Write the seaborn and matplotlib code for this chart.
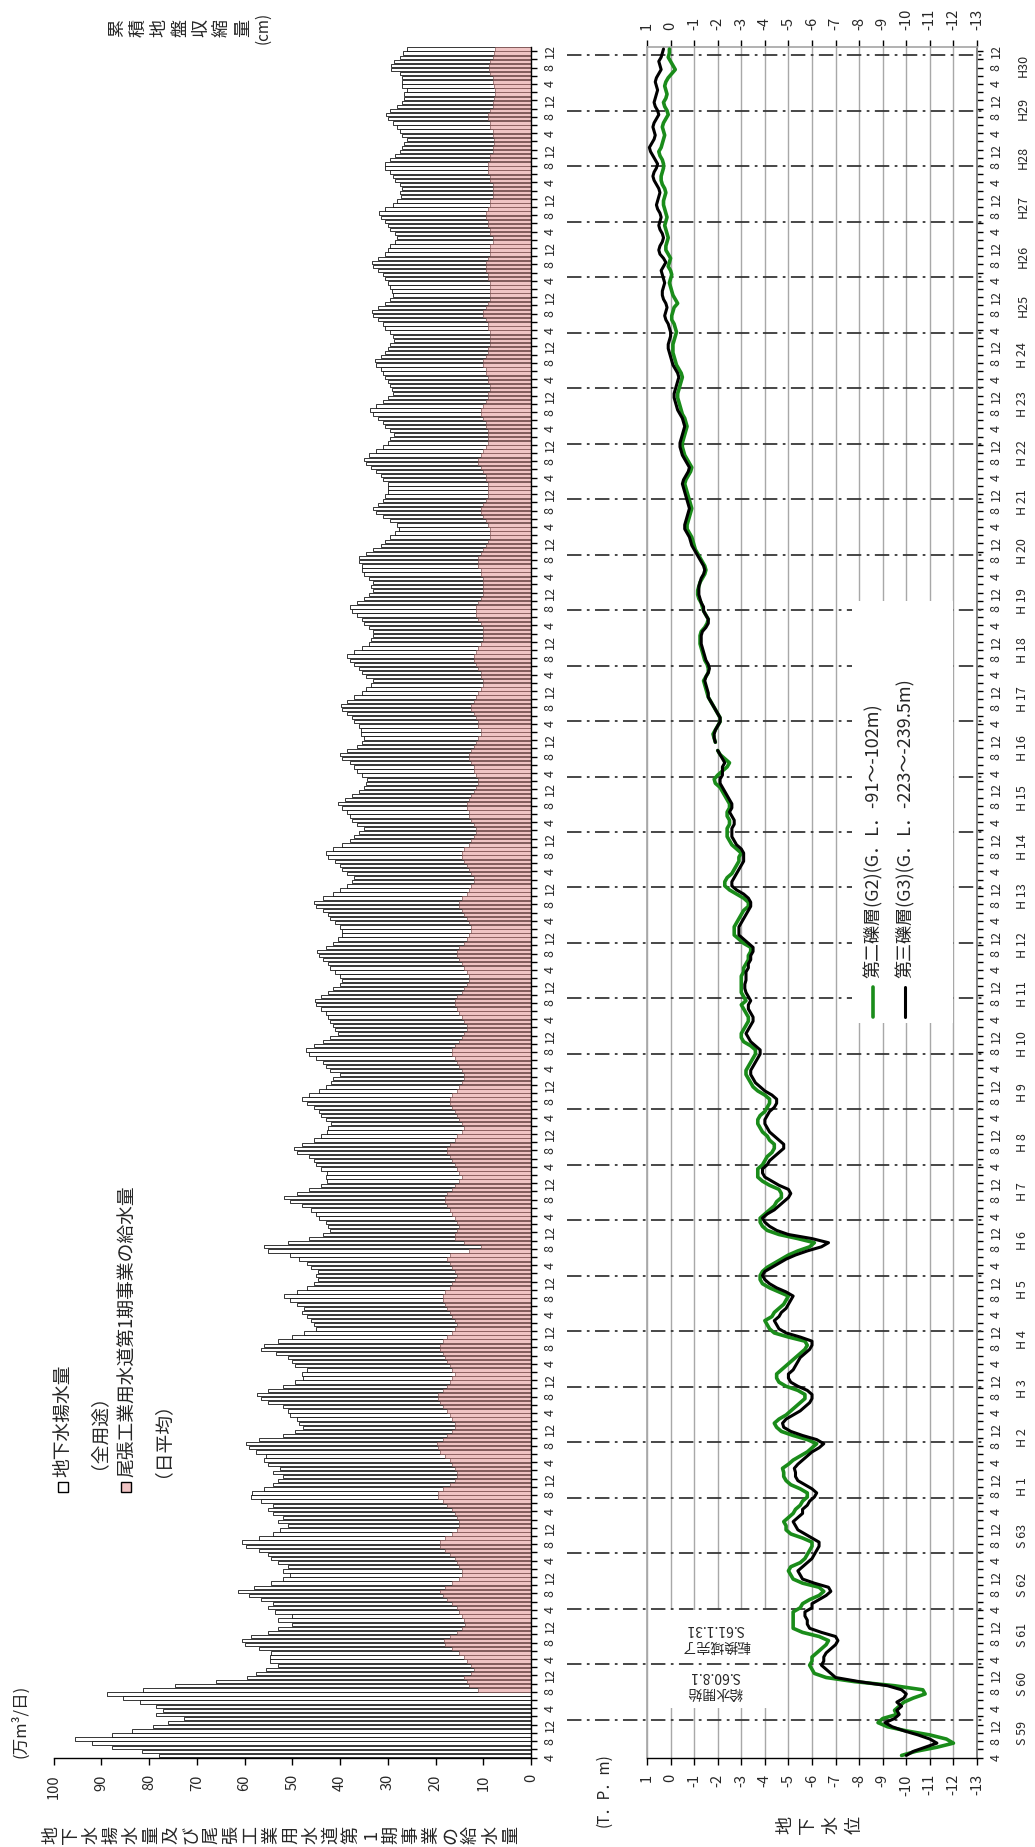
import numpy as np
import pandas as pd
import matplotlib
matplotlib.use("Agg")
import matplotlib.pyplot as plt
import seaborn as sns
from matplotlib.patches import Rectangle
from matplotlib.lines import Line2D
from matplotlib.transforms import blended_transform_factory

# ---- data: monthly, Apr 1984 (S59.4) .. Dec 2018 (H30.12) ----
# groundwater pumping, all uses (万m3/日)
total_rows = [
    [78.0, 81.4, 87.8, 91.9, 95.5, 87.8, 83.5, 79.2, 76.1],
    [72.7, 78.5, 77.0, 78.5, 81.8, 85.4, 88.8, 81.3, 74.6, 66.0, 59.4, 57.5],
    [55.5, 53.0, 54.6, 54.6, 54.5, 57.0, 60.0, 60.6, 58.7, 55.0, 53.0, 50.0],
    [53.0, 50.0, 53.6, 55.0, 54.0, 56.5, 59.0, 61.3, 58.0, 54.5, 52.0, 50.4],
    [52.0, 51.0, 53.0, 54.5, 55.0, 57.0, 59.6, 60.5, 57.0, 54.0, 52.5, 51.0],
    [53.0, 52.0, 54.0, 55.0, 54.0, 56.5, 58.7, 58.5, 56.0, 54.0, 53.0, 52.0],
    [54.0, 52.5, 55.0, 56.0, 55.5, 57.5, 59.0, 59.6, 57.0, 52.0, 49.5, 47.8],
    [48.5, 49.0, 50.5, 51.0, 52.0, 55.0, 56.5, 57.4, 55.0, 52.0, 49.5, 47.8],
    [48.0, 47.0, 49.5, 50.0, 51.0, 53.5, 56.5, 56.0, 53.0, 50.0, 47.5, 45.0],
    [45.5, 46.0, 47.0, 48.0, 47.5, 49.0, 50.5, 51.7, 49.0, 47.0, 45.5, 44.6],
    [45.0, 44.6, 46.0, 47.0, 48.5, 50.5, 55.0, 56.0, 51.0, 46.5, 43.5, 42.0],
    [42.5, 43.0, 44.5, 45.0, 46.0, 48.0, 50.5, 51.7, 49.0, 46.5, 44.0, 42.7],
    [43.0, 42.7, 44.0, 45.0, 45.5, 46.5, 49.0, 49.7, 48.0, 45.5, 44.0, 42.7],
    [42.5, 41.8, 43.0, 44.0, 44.5, 45.5, 47.0, 48.0, 46.5, 44.5, 43.0, 41.8],
    [41.5, 40.1, 42.0, 43.0, 43.5, 45.0, 46.5, 47.2, 45.5, 43.5, 42.0, 40.5],
    [41.0, 41.5, 42.0, 42.5, 43.0, 44.0, 45.0, 45.3, 44.0, 42.5, 41.5, 40.0],
    [39.5, 40.0, 41.0, 42.0, 42.5, 43.5, 44.5, 44.9, 43.0, 41.5, 40.5, 39.5],
    [39.5, 40.0, 41.0, 42.0, 42.5, 43.5, 45.0, 45.5, 43.5, 41.5, 40.0, 38.5],
    [37.5, 37.0, 38.5, 39.5, 40.0, 41.0, 42.5, 43.0, 41.5, 39.5, 38.0, 37.0],
    [36.0, 35.0, 36.5, 37.5, 38.0, 38.5, 39.5, 40.4, 39.0, 37.5, 36.0, 35.0],
    [34.5, 34.4, 35.5, 36.5, 37.0, 38.0, 39.5, 40.0, 38.5, 36.5, 35.5, 35.0],
    [35.6, 35.6, 36.0, 37.0, 37.5, 38.5, 39.5, 39.9, 38.5, 37.0, 35.5, 34.5],
    [33.5, 33.0, 34.5, 35.5, 36.0, 37.0, 38.0, 38.6, 37.0, 35.5, 34.0, 33.5],
    [33.0, 33.0, 34.0, 35.0, 35.5, 36.5, 37.5, 38.0, 36.5, 35.0, 34.0, 33.0],
    [33.5, 33.0, 34.0, 35.0, 35.5, 35.5, 36.0, 36.0, 34.5, 33.0, 31.5, 30.5],
    [29.5, 28.5, 27.6, 28.0, 29.5, 31.0, 32.5, 33.0, 32.0, 31.0, 30.5, 30.0],
    [30.0, 30.0, 31.0, 31.5, 32.5, 33.5, 34.5, 35.0, 34.0, 32.5, 31.0, 30.0],
    [29.5, 28.6, 29.5, 30.5, 31.0, 32.0, 33.0, 33.7, 32.5, 31.0, 30.0, 29.0],
    [29.2, 29.5, 30.0, 30.5, 31.0, 31.5, 32.5, 32.7, 31.5, 30.5, 30.0, 29.5],
    [28.8, 29.0, 29.5, 30.5, 31.0, 32.0, 33.0, 33.3, 32.0, 30.5, 29.5, 29.0],
    [29.2, 29.5, 30.0, 30.5, 31.0, 32.0, 33.0, 33.3, 32.0, 30.5, 30.0, 29.5],
    [28.5, 28.0, 28.5, 29.5, 30.0, 30.5, 31.5, 31.8, 30.5, 29.0, 28.0, 27.3],
    [27.5, 27.0, 27.5, 28.5, 29.0, 29.5, 30.5, 30.5, 29.5, 28.5, 27.5, 27.0],
    [26.5, 26.0, 27.0, 27.5, 28.0, 29.0, 30.0, 30.3, 29.5, 28.0, 27.0, 26.5],
    [26.5, 26.0, 27.0, 27.0, 27.0, 27.5, 29.3, 29.3, 28.7, 27.5, 26.8, 26.0],
]

nan = np.nan
# 尾張工業用水道第1期事業の給水量 (supply started S60.8)
pink_rows = [
    [nan] * 9,
    [nan, nan, nan, nan, nan, nan, nan, 11.0, 13.0, 13.5, 14.0, 12.5],
    [12.0, 12.5, 13.5, 14.0, 15.0, 16.5, 18.0, 18.3, 17.0, 15.5, 14.5, 13.8],
    [14.0, 14.5, 15.0, 15.5, 16.5, 17.5, 18.5, 19.0, 18.0, 16.5, 15.0, 14.5],
    [14.5, 15.0, 15.5, 16.0, 17.0, 18.0, 19.0, 19.0, 18.0, 16.5, 15.5, 15.0],
    [15.0, 15.5, 16.0, 16.5, 17.5, 18.5, 19.5, 19.5, 18.5, 17.0, 16.0, 15.5],
    [15.5, 16.0, 16.5, 17.0, 18.0, 19.0, 19.5, 19.6, 18.5, 17.5, 16.5, 16.0],
    [16.0, 16.5, 17.0, 17.5, 18.5, 19.0, 19.5, 19.5, 18.5, 17.5, 17.0, 16.5],
    [16.0, 16.5, 17.0, 17.5, 18.0, 18.5, 19.0, 19.0, 18.5, 17.5, 16.5, 16.0],
    [15.5, 16.0, 16.5, 17.0, 17.5, 18.0, 18.5, 18.5, 18.0, 17.0, 16.5, 16.0],
    [15.5, 16.0, 16.5, 17.0, 17.5, 17.0, 13.0, 10.5, 14.0, 16.0, 16.0, 15.5],
    [15.0, 15.5, 16.0, 16.5, 17.0, 17.5, 18.0, 18.0, 17.5, 16.5, 16.0, 15.0],
    [14.5, 15.0, 15.5, 16.0, 16.5, 17.0, 17.5, 17.5, 17.0, 16.0, 15.5, 14.5],
    [14.0, 14.5, 15.0, 15.5, 16.0, 16.5, 17.0, 17.0, 16.5, 15.5, 15.0, 14.5],
    [14.0, 14.0, 14.5, 15.0, 15.5, 16.0, 16.5, 16.5, 16.0, 15.0, 14.5, 14.0],
    [13.5, 13.5, 14.0, 14.5, 15.0, 15.5, 16.0, 16.0, 15.5, 14.5, 14.0, 13.5],
    [13.0, 13.0, 13.5, 14.0, 14.5, 15.0, 15.5, 15.5, 15.0, 14.0, 13.5, 13.0],
    [12.5, 12.5, 13.0, 13.5, 14.0, 14.5, 15.0, 15.0, 14.5, 13.5, 13.0, 12.5],
    [12.0, 12.0, 12.5, 13.0, 13.5, 14.0, 14.5, 14.5, 14.0, 13.0, 12.5, 12.0],
    [11.5, 11.5, 12.0, 12.5, 13.0, 13.0, 13.5, 13.5, 13.0, 12.5, 12.0, 11.5],
    [11.0, 11.0, 11.5, 12.0, 12.0, 12.5, 13.0, 13.0, 12.5, 12.0, 11.5, 11.0],
    [10.5, 10.5, 11.0, 11.0, 11.5, 12.0, 12.5, 12.5, 12.0, 11.5, 11.0, 10.5],
    [10.0, 10.0, 10.5, 10.5, 11.0, 11.5, 12.0, 12.0, 11.5, 11.0, 10.5, 10.0],
    [10.0, 10.0, 10.0, 10.5, 11.0, 11.5, 11.5, 11.5, 11.0, 10.5, 10.0, 10.0],
    [10.0, 10.0, 10.0, 10.5, 10.5, 11.0, 11.0, 11.0, 10.5, 10.0, 9.5, 9.0],
    [8.5, 8.5, 8.5, 9.0, 9.5, 10.0, 10.5, 10.5, 10.0, 9.5, 9.0, 9.0],
    [9.0, 9.0, 9.5, 9.5, 10.0, 10.5, 11.0, 11.0, 10.5, 10.0, 9.5, 9.0],
    [9.0, 9.0, 9.0, 9.5, 9.5, 10.0, 10.5, 10.5, 10.0, 9.5, 9.0, 9.0],
    [8.5, 8.5, 9.0, 9.0, 9.5, 9.5, 10.0, 10.0, 9.5, 9.0, 9.0, 8.5],
    [8.5, 8.5, 8.5, 9.0, 9.0, 9.5, 10.0, 10.0, 9.5, 9.0, 8.5, 8.5],
    [8.5, 8.5, 8.5, 9.0, 9.0, 9.5, 9.5, 9.5, 9.0, 8.5, 8.5, 8.5],
    [8.0, 8.0, 8.5, 8.5, 9.0, 9.0, 9.5, 9.5, 9.0, 8.5, 8.5, 8.0],
    [8.0, 8.0, 8.0, 8.5, 8.5, 9.0, 9.0, 9.0, 8.5, 8.5, 8.0, 8.0],
    [7.8, 7.8, 8.0, 8.0, 8.5, 8.5, 9.0, 9.0, 8.5, 8.0, 8.0, 7.8],
    [7.6, 7.6, 7.8, 8.0, 8.0, 8.5, 8.8, 8.8, 8.5, 8.0, 7.8, 7.6],
]

# groundwater level, 第二礫層 G2 (T.P. m)
g2_rows = [
    [-9.8, -10.4, -11.3, -12.0, -11.7, -11.0, -10.0, -9.2, -8.8],
    [-9.0, -9.6, -9.5, -9.7, -9.9, -10.3, -10.8, -10.7, -9.5, -7.8, -6.6, -6.1],
    [-6.0, -5.9, -6.0, -6.0, -6.2, -6.4, -6.6, -6.7, -6.3, -5.6, -5.2, -5.2],
    [-5.2, -5.2, -5.2, -5.5, -5.6, -5.9, -6.3, -6.5, -6.3, -5.6, -5.2, -5.1],
    [-5.0, -5.1, -5.5, -5.7, -5.8, -5.9, -6.0, -6.0, -5.6, -5.1, -4.9, -4.9],
    [-4.8, -5.0, -5.2, -5.3, -5.5, -5.6, -5.8, -5.8, -5.5, -5.1, -4.9, -4.8],
    [-4.8, -4.75, -5.0, -5.2, -5.5, -5.8, -6.0, -6.2, -5.8, -5.2, -4.7, -4.5],
    [-4.4, -4.6, -4.9, -5.1, -5.3, -5.5, -5.7, -5.7, -5.4, -4.9, -4.6, -4.5],
    [-4.5, -4.7, -4.9, -5.1, -5.3, -5.5, -5.7, -5.8, -5.7, -5.0, -4.4, -4.2],
    [-4.1, -4.0, -4.3, -4.4, -4.6, -4.8, -4.9, -5.0, -4.6, -4.2, -3.9, -3.8],
    [-3.8, -3.9, -4.1, -4.4, -4.7, -5.0, -5.4, -5.9, -6.1, -5.4, -4.6, -4.1],
    [-3.9, -3.8, -3.8, -4.0, -4.2, -4.4, -4.5, -4.7, -4.7, -4.6, -4.2, -3.9],
    [-3.7, -3.7, -3.7, -3.9, -4.0, -4.1, -4.3, -4.4, -4.4, -4.2, -4.1, -3.9],
    [-3.8, -3.7, -3.7, -3.8, -4.0, -4.1, -4.2, -4.2, -4.0, -3.7, -3.5, -3.4],
    [-3.3, -3.2, -3.2, -3.3, -3.4, -3.5, -3.6, -3.6, -3.4, -3.1, -3.0, -3.0],
    [-3.1, -3.2, -3.3, -3.3, -3.2, -3.1, -3.0, -3.2, -3.1, -3.0, -3.0, -3.0],
    [-3.0, -3.0, -3.1, -3.1, -3.2, -3.3, -3.3, -3.4, -3.4, -3.1, -2.9, -2.7],
    [-2.7, -2.7, -2.8, -2.9, -3.0, -3.1, -3.3, -3.3, -3.1, -2.8, -2.5, -2.3],
    [-2.3, -2.4, -2.6, -2.7, -2.8, -2.9, -2.9, -3.0, -2.8, -2.6, -2.5, -2.4],
    [-2.4, -2.4, -2.5, -2.5, -2.4, -2.4, -2.5, -2.5, -2.4, -2.3, -2.2, -2.1],
    [-1.9, -1.85, -2.0, -2.2, -2.4, -2.5, -2.3, -2.1, -2.0, nan, -1.9, -1.85],
    [-1.8, -1.9, -2.0, -2.1, -2.1, -2.0, -1.9, -1.8, -1.7, -1.6, -1.55, -1.5],
    [-1.45, -1.4, -1.5, -1.6, -1.6, -1.55, -1.45, -1.4, -1.35, -1.3, -1.25, -1.25],
    [-1.25, -1.3, -1.45, -1.55, -1.6, -1.5, -1.4, -1.35, -1.3, -1.2, -1.15, -1.15],
    [-1.2, -1.25, -1.35, -1.45, -1.5, -1.45, -1.35, -1.25, -1.15, -1.05, -1.0, -0.95],
    [-0.9, -0.8, -0.7, -0.7, -0.75, -0.8, -0.85, -0.9, -0.85, -0.8, -0.75, -0.7],
    [-0.65, -0.6, -0.65, -0.75, -0.85, -0.9, -0.8, -0.7, -0.6, -0.55, -0.5, -0.5],
    [-0.55, -0.6, -0.65, -0.7, -0.65, -0.6, -0.5, -0.45, -0.4, -0.35, -0.3, -0.3],
    [-0.35, -0.4, -0.45, -0.5, -0.45, -0.35, -0.25, -0.2, -0.15, -0.1, -0.1, -0.1],
    [-0.15, -0.2, -0.25, -0.2, -0.15, -0.05, -0.05, -0.1, -0.15, -0.3, -0.2, -0.1],
    [-0.05, 0.0, 0.05, 0.0, -0.05, 0.0, 0.1, 0.05, 0.0, 0.1, 0.2, 0.2],
    [0.15, 0.1, 0.15, 0.2, 0.25, 0.2, 0.15, 0.2, 0.25, 0.3, 0.3, 0.25],
    [0.2, 0.25, 0.35, 0.4, 0.4, 0.35, 0.3, 0.3, 0.35, 0.45, 0.5, 0.4],
    [0.35, 0.3, 0.25, 0.3, 0.35, 0.3, 0.2, 0.1, 0.15, 0.25, 0.3, 0.2],
    [0.15, 0.2, 0.25, 0.2, 0.1, -0.05, -0.2, -0.1, 0.0, 0.1, 0.05, 0.05],
]

# groundwater level, 第三礫層 G3 (T.P. m)
g3_rows = [
    [-10.0, -10.3, -10.8, -11.3, -11.0, -10.5, -9.9, -9.4, -9.1],
    [-9.5, -9.7, -9.6, -9.8, -9.6, -9.9, -10.0, -9.8, -9.2, -8.0, -7.0, -6.8],
    [-6.6, -6.4, -6.5, -6.5, -6.6, -6.8, -7.0, -7.1, -7.0, -6.4, -5.9, -5.8],
    [-5.8, -5.7, -5.7, -6.0, -6.0, -6.3, -6.6, -6.8, -6.7, -6.1, -5.6, -5.5],
    [-5.4, -5.6, -5.8, -6.0, -6.1, -6.2, -6.3, -6.3, -6.0, -5.7, -5.4, -5.3],
    [-5.2, -5.4, -5.6, -5.6, -5.8, -5.9, -6.1, -6.2, -6.0, -5.7, -5.4, -5.3],
    [-5.3, -5.25, -5.4, -5.6, -5.8, -6.0, -6.3, -6.5, -6.2, -5.6, -5.1, -4.8],
    [-4.75, -4.9, -5.2, -5.5, -5.7, -5.9, -6.0, -6.0, -5.8, -5.4, -5.1, -5.0],
    [-5.0, -5.2, -5.3, -5.4, -5.5, -5.7, -5.9, -6.0, -6.0, -5.5, -4.9, -4.6],
    [-4.5, -4.4, -4.6, -4.7, -4.9, -5.0, -5.1, -5.2, -4.9, -4.5, -4.2, -4.0],
    [-3.9, -4.0, -4.3, -4.6, -4.9, -5.3, -5.8, -6.4, -6.7, -6.0, -5.0, -4.5],
    [-4.2, -4.0, -3.9, -4.1, -4.4, -4.6, -4.8, -5.0, -5.1, -5.0, -4.6, -4.3],
    [-4.0, -3.9, -3.9, -4.1, -4.2, -4.4, -4.6, -4.8, -4.8, -4.6, -4.4, -4.2],
    [-4.1, -4.0, -4.0, -4.1, -4.2, -4.4, -4.5, -4.5, -4.3, -4.0, -3.8, -3.6],
    [-3.5, -3.4, -3.4, -3.5, -3.6, -3.7, -3.8, -3.8, -3.6, -3.4, -3.3, -3.2],
    [-3.3, -3.4, -3.5, -3.5, -3.4, -3.3, -3.3, -3.4, -3.3, -3.2, -3.15, -3.15],
    [-3.2, -3.2, -3.2, -3.3, -3.3, -3.4, -3.4, -3.5, -3.5, -3.3, -3.1, -2.9],
    [-2.9, -2.9, -3.0, -3.1, -3.2, -3.3, -3.4, -3.4, -3.3, -3.1, -2.8, -2.6],
    [-2.6, -2.7, -2.8, -2.9, -3.0, -3.1, -3.1, -3.1, -3.0, -2.8, -2.7, -2.6],
    [-2.6, -2.6, -2.7, -2.7, -2.6, -2.5, -2.6, -2.6, -2.5, -2.4, -2.3, -2.2],
    [-2.1, -2.1, -2.2, -2.2, -2.2, -2.3, -2.2, -2.1, -2.0, nan, -1.9, -1.85],
    [-1.85, -1.9, -2.0, -2.1, -2.1, -2.0, -1.9, -1.8, -1.7, -1.6, -1.6, -1.55],
    [-1.5, -1.45, -1.5, -1.6, -1.65, -1.6, -1.5, -1.45, -1.4, -1.35, -1.3, -1.3],
    [-1.3, -1.35, -1.5, -1.6, -1.6, -1.5, -1.4, -1.4, -1.3, -1.25, -1.2, -1.2],
    [-1.2, -1.25, -1.3, -1.4, -1.45, -1.4, -1.3, -1.2, -1.1, -1.0, -0.9, -0.85],
    [-0.8, -0.7, -0.6, -0.6, -0.65, -0.7, -0.75, -0.8, -0.75, -0.7, -0.65, -0.6],
    [-0.55, -0.5, -0.55, -0.65, -0.75, -0.8, -0.7, -0.6, -0.5, -0.45, -0.4, -0.4],
    [-0.45, -0.5, -0.55, -0.6, -0.55, -0.5, -0.4, -0.3, -0.25, -0.2, -0.15, -0.15],
    [-0.2, -0.25, -0.3, -0.35, -0.3, -0.2, -0.1, -0.05, 0.0, 0.05, 0.1, 0.1],
    [0.05, 0.0, 0.0, 0.05, 0.1, 0.2, 0.25, 0.2, 0.15, 0.2, 0.3, 0.35],
    [0.35, 0.3, 0.25, 0.3, 0.35, 0.4, 0.3, 0.2, 0.3, 0.45, 0.5, 0.45],
    [0.35, 0.3, 0.35, 0.45, 0.5, 0.45, 0.4, 0.45, 0.55, 0.6, 0.55, 0.5],
    [0.45, 0.5, 0.6, 0.7, 0.75, 0.7, 0.6, 0.55, 0.65, 0.75, 0.85, 0.9],
    [0.8, 0.7, 0.65, 0.7, 0.75, 0.7, 0.6, 0.5, 0.55, 0.65, 0.7, 0.65],
    [0.6, 0.55, 0.6, 0.65, 0.6, 0.5, 0.4, 0.45, 0.5, 0.4, 0.35, 0.3],
]

month_labels = ["4", "8", "12"]
year_labels = ["S 59", "S 60", "S 61", "S 62", "S 63",
               "H 1", "H 2", "H 3", "H 4", "H 5", "H 6", "H 7", "H 8", "H 9",
               "H 10", "H 11", "H 12", "H 13", "H 14", "H 15", "H 16", "H 17",
               "H 18", "H 19", "H 20", "H 21", "H 22", "H 23", "H 24",
               "H25", "H26", "H27", "H28", "H29", "H30"]

flat = lambda rows: [v for r in rows for v in r]
df = pd.DataFrame({
    "total": flat(total_rows),
    "pink": flat(pink_rows),
    "g2": flat(g2_rows),
    "g3": flat(g3_rows),
})
n = len(df)
df["t"] = np.arange(n) + 0.5

# ---- figure ----
sns.set_theme(style="white")
plt.rcParams["font.family"] = ["Noto Sans CJK JP", "DejaVu Sans"]
plt.rcParams["axes.unicode_minus"] = False

W, H = 1035, 1847
fig = plt.figure(figsize=(W / 100, H / 100), dpi=100)

def box(x0, x1, ytop, ybot):
    return [x0 / W, 1 - ybot / H, (x1 - x0) / W, (ybot - ytop) / H]

def ft(x, y, s, **kw):
    return fig.text(x / W, 1 - y / H, s, **kw)

def stacked(text, x0, x1, y, size):
    # vertical japanese text, turned on its side
    for c, x in zip(text, np.linspace(x0, x1, len(text))):
        ft(x, y, c, rotation=90, ha="center", va="center", fontsize=size)

TOP, BOT = 47, 1757.5
ax1 = fig.add_axes(box(53.6, 531, TOP, BOT))
ax2 = fig.add_axes(box(647, 977, TOP, BOT))

# ---- bars ----
PINK = "#f0c4c4"
sns.barplot(data=df, x="total", y="t", orient="y", native_scale=True,
            color="white", saturation=1, edgecolor="black", linewidth=0.55,
            width=0.82, errorbar=None, ax=ax1)
sns.barplot(data=df.dropna(subset=["pink"]), x="pink", y="t", orient="y",
            native_scale=True, color=PINK, saturation=1,
            edgecolor="#7a4a4a", linewidth=0.45, width=0.82, errorbar=None,
            ax=ax1)

ax1.set_xlim(100, 0)
ax1.set_ylim(0, n)
ax1.set_xlabel("")
ax1.set_ylabel("")
ax1.set_xticks(range(0, 101, 10))
ax1.set_xticklabels([str(v) for v in range(0, 101, 10)], rotation=90)
for s in ["top", "left"]:
    ax1.spines[s].set_visible(False)
for s in ["bottom", "right"]:
    ax1.spines[s].set_color("black")
    ax1.spines[s].set_linewidth(1)
ax1.tick_params(axis="x", direction="out", length=5, width=1, pad=7,
                labelsize=10.5, bottom=True, color="black")

month_ticks = np.arange(0, n, 4)
month_text = [month_labels[i % 3] for i in range(len(month_ticks))]
minor_ticks = np.arange(2, n, 4)


def month_axis(ax):
    ax.yaxis.tick_right()
    ax.set_yticks(month_ticks)
    ax.set_yticklabels(month_text, rotation=90, va="center")
    ax.set_yticks(minor_ticks, minor=True)
    ax.tick_params(axis="y", which="both", direction="out", right=True,
                   left=False, length=4, width=1, color="black")
    ax.tick_params(axis="y", which="major", labelsize=9, pad=5)


month_axis(ax1)

# ---- groundwater lines ----
seg = df["g3"].isna().cumsum()
lines = df.assign(seg=seg).dropna(subset=["g2", "g3"])
sns.lineplot(data=lines, x="g2", y="t", units="seg", estimator=None,
             sort=False, color="#1a8c1a", linewidth=2.6, ax=ax2, zorder=6)
sns.lineplot(data=lines, x="g3", y="t", units="seg", estimator=None,
             sort=False, color="black", linewidth=2.2, ax=ax2, zorder=7)

ax2.set_xlim(1, -13)
ax2.set_ylim(0, n)
ax2.set_xlabel("")
ax2.set_ylabel("")
levels = list(range(1, -14, -1))
ax2.set_xticks(levels)
ax2.set_xticklabels([str(v) for v in levels])
ax2.tick_params(axis="x", which="major", direction="out", length=5, width=1,
                labelsize=10.5, pad=7, bottom=True, top=True,
                labelbottom=True, labeltop=True, color="black")
for t in ax2.xaxis.get_major_ticks():
    t.label1.set_rotation(90)
    t.label1.set_va("top")
    t.label2.set_rotation(90)
    t.label2.set_va("bottom")
ax2.grid(axis="x", color="#a8a8a8", linewidth=1)
ax2.grid(axis="y", visible=False)
ax2.set_axisbelow(True)
ax2.spines["bottom"].set_color("black")
ax2.spines["bottom"].set_linewidth(1)
ax2.spines["top"].set_color("#a8a8a8")
ax2.spines["left"].set_color("#a8a8a8")
ax2.spines["right"].set_color("#777777")
month_axis(ax2)

trans = blended_transform_factory(ax2.transAxes, ax2.transData)

# fiscal-year labels
year_pos = [12 * k + 6 for k in range(len(year_labels) - 1)] + [412.5]
for lab, yp in zip(year_labels, year_pos):
    ax2.text(1.139, yp, lab, transform=trans, rotation=90, ha="center",
             va="center", fontsize=9)

# dash-dot guide lines
for yd in np.linspace(9.2, 415, 31):
    ax2.plot([-0.242, 1.024], [yd, yd], transform=trans, clip_on=False,
             color="#383838", linewidth=1.3, dashes=(8, 3, 1.5, 3), zorder=3)

# annotation box
ax2.add_patch(Rectangle((0.85, 12.1), -5.35, 23.9, facecolor="white",
                        edgecolor="none", zorder=2))
ax2.text(-1.9, 17.9, "給水開始\nS.60.8.1", rotation=180, ha="center",
         va="center", fontsize=10, linespacing=1.25, zorder=4)
ax2.text(-1.9, 29.3, "転換域完了\nS.61.1.31", rotation=180, ha="center",
         va="center", fontsize=10, linespacing=1.25, zorder=4)

# legend for the lines (drawn turned like the rest)
ax2.add_patch(Rectangle((-7.7, 179), -4.3, 103, facecolor="white",
                        edgecolor="none", zorder=5))
fig.add_artist(Line2D([873 / W, 873 / W], [1 - 1017 / H, 1 - 987 / H],
                      color="#1a8c1a", linewidth=2.6))
fig.add_artist(Line2D([905 / W, 905 / W], [1 - 1017 / H, 1 - 987 / H],
                      color="black", linewidth=2.2))
ft(873, 978, "第二礫層(G2)(G．L．-91～-102m)", rotation=90, ha="center",
   va="bottom", fontsize=13)
ft(905, 978, "第三礫層(G3)(G．L．-223～-239.5m)", rotation=90, ha="center",
   va="bottom", fontsize=13)

# legend for the bars
fig.add_artist(Rectangle((58 / W, 1 - 1492 / H), 10 / W, 10 / H,
                         facecolor="white", edgecolor="black", linewidth=1,
                         transform=fig.transFigure))
fig.add_artist(Rectangle((121 / W, 1 - 1492 / H), 10 / W, 10 / H,
                         facecolor=PINK, edgecolor="black", linewidth=1,
                         transform=fig.transFigure))
ft(63, 1477, "地下水揚水量", rotation=90, ha="center", va="bottom", fontsize=13.5)
ft(89, 1469, "（全用途）", rotation=90, ha="center", va="bottom", fontsize=13.5)
ft(128, 1477, "尾張工業用水道第1期事業の給水量", rotation=90, ha="center",
   va="bottom", fontsize=13.5)
ft(153, 1477, "（日平均）", rotation=90, ha="center", va="bottom", fontsize=13.5)

# axis titles
stacked("地下水揚水量及び尾張工業用水道第1期事業の給水量", 51, 511, 1835, 13)
ft(20, 1721, "(万m³/日)", rotation=90, ha="center", va="center", fontsize=12)
stacked("地下水位", 785, 855, 1825, 13)
ft(604, 1790, "(T．P．m)", rotation=90, ha="center", va="center", fontsize=11)
stacked("累積地盤収縮量", 117, 243, 28, 13)
ft(263, 28, "(cm)", rotation=90, ha="center", va="center", fontsize=11)

fig.savefig("out.png", dpi=100)
